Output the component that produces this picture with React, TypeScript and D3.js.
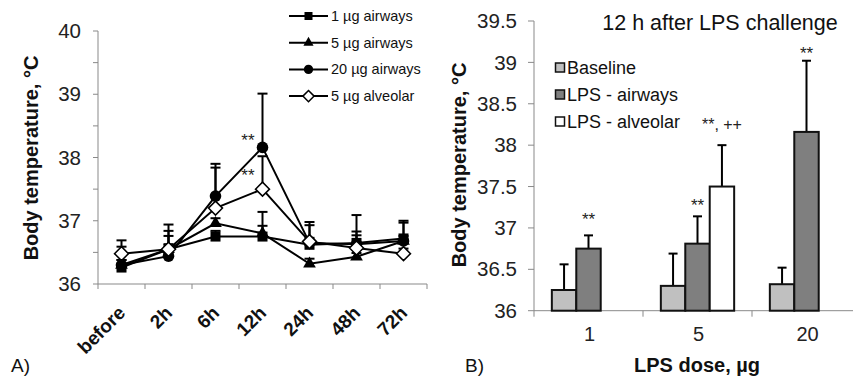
import React, { useRef, useEffect } from "react";
import * as d3 from "d3";

// panel A: body temperature over time
const times = ["before", "2h", "6h", "12h", "24h", "48h", "72h"];
const seriesNames = ["1 µg airways", "5 µg airways", "20 µg airways", "5 µg alveolar"];
const s1 = [36.26, 36.55, 36.75, 36.75, 36.62, 36.65, 36.72];
const s1Err = [0.33, 0.29, 0.09, 0.39, 0.31, 0.44, 0.28];
const s2 = [36.3, 36.55, 36.96, 36.8, 36.32, 36.43, 36.68];
const s2Err = [0.08, 0.39, 0.08, 0.12, 0.08, 0.06, 0.08];
const s3 = [36.3, 36.44, 37.39, 38.16, 36.65, 36.63, 36.68];
const s3Err = [0.08, 0.32, 0.51, 0.85, 0.08, 0.2, 0.29];
const s4 = [36.48, 36.55, 37.2, 37.5, 36.67, 36.57, 36.48];
const s4Err = [0.21, 0.08, 0.64, 0.52, 0.31, 0.2, 0.08];
const leftTicks = [36, 36.5, 37, 37.5, 38, 38.5, 39, 39.5, 40];
const leftStars = [
  { time: "12h", level: 38.18 },
  { time: "12h", level: 37.63 },
];

// panel B: 12 h after LPS challenge
const doses = ["1", "5", "20"];
const groups = ["Baseline", "LPS - airways", "LPS - alveolar"];
const baseline = [36.25, 36.3, 36.32];
const baselineErr = [0.31, 0.39, 0.2];
const airways = [36.75, 36.81, 38.16];
const airwaysErr = [0.16, 0.33, 0.86];
const alveolar = [null, 37.5, null];
const alveolarErr = [null, 0.5, null];
const airwaysStars = ["**", "**", "**"];
const airwaysStarLevel = [37.04, 37.2, 39.04];
const alveolarStars = [null, "**, ++", null];
const alveolarStarLevel = [null, 38.18, null];
const rightTicks = [36, 36.5, 37, 37.5, 38, 38.5, 39, 39.5];

const FONT = "'Liberation Sans', Arial, sans-serif";
const AXIS = "#898989";

const App = () => {
  const ref = useRef(null);

  useEffect(() => {
    const svg = d3.select(ref.current);
    svg.selectAll("*").remove();

    // ---------- panel A ----------
    const xA = d3.scaleBand().domain(times).range([98, 427]);
    const yA = d3.scaleLinear().domain([36, 40]).range([284, 31]);
    const a = svg.append("g");

    a.append("line").attr("x1", 98).attr("x2", 98).attr("y1", yA(40)).attr("y2", yA(36)).attr("stroke", AXIS);
    a.append("line").attr("x1", 98).attr("x2", 427).attr("y1", yA(36)).attr("y2", yA(36)).attr("stroke", AXIS);
    a.selectAll(".ytick").data(leftTicks).enter().append("line")
      .attr("x1", 93).attr("x2", 98).attr("y1", d => yA(d)).attr("y2", d => yA(d)).attr("stroke", AXIS);
    a.selectAll(".ylab").data(leftTicks.filter(d => d % 1 === 0)).enter().append("text")
      .attr("x", 81).attr("y", d => yA(d)).attr("dy", "0.35em").attr("text-anchor", "end")
      .attr("font-size", 20.5).attr("font-family", FONT).attr("fill", "#222").text(d => d);
    const xEdges = times.map(t => xA(t)).concat([427]);
    a.selectAll(".xtick").data(xEdges).enter().append("line")
      .attr("x1", d => d).attr("x2", d => d).attr("y1", yA(36)).attr("y2", yA(36) + 5).attr("stroke", AXIS);
    a.selectAll(".xlab").data(times).enter().append("text")
      .attr("transform", d => `translate(${xA(d) + xA.bandwidth() / 2 + 5},${314}) rotate(-45)`)
      .attr("text-anchor", "end").attr("font-size", 19).attr("font-weight", "bold")
      .attr("font-family", FONT).attr("fill", "#111").text(d => d);

    a.append("text").attr("transform", "translate(38,158) rotate(-90)").attr("text-anchor", "middle")
      .attr("font-size", 20).attr("font-weight", "bold").attr("font-family", FONT).attr("fill", "#111")
      .text("Body temperature, °C");

    const cx = (t) => xA(t) + xA.bandwidth() / 2;
    const series = [
      { vals: s1, err: s1Err, type: "square" },
      { vals: s2, err: s2Err, type: "triangle" },
      { vals: s3, err: s3Err, type: "circle" },
      { vals: s4, err: s4Err, type: "diamond" },
    ];
    const line = d3.line().x((d, i) => cx(times[i])).y(d => yA(d));
    series.forEach(s => {
      a.append("path").attr("d", line(s.vals)).attr("fill", "none").attr("stroke", "#000").attr("stroke-width", 2);
    });
    series.forEach(s => {
      s.vals.forEach((v, i) => {
        const x = cx(times[i]);
        const top = yA(v + s.err[i]);
        a.append("line").attr("x1", x).attr("x2", x).attr("y1", yA(v)).attr("y2", top).attr("stroke", "#000").attr("stroke-width", 2);
        a.append("line").attr("x1", x - 5).attr("x2", x + 5).attr("y1", top).attr("y2", top).attr("stroke", "#000").attr("stroke-width", 2);
      });
    });
    const drawMarker = (g, type, x, y, scale) => {
      if (type === "square") {
        g.append("rect").attr("x", x - 5 * scale).attr("y", y - 5 * scale).attr("width", 10 * scale).attr("height", 10 * scale).attr("fill", "#000");
      } else if (type === "triangle") {
        g.append("path").attr("transform", `translate(${x},${y})`)
          .attr("d", d3.symbol(d3.symbolTriangle, 70 * scale * scale)()).attr("fill", "#000");
      } else if (type === "circle") {
        g.append("circle").attr("cx", x).attr("cy", y).attr("r", 5.8 * scale).attr("fill", "#000");
      } else {
        const r = 7 * scale;
        g.append("path").attr("d", `M${x},${y - r}L${x + r},${y}L${x},${y + r}L${x - r},${y}Z`)
          .attr("fill", "#fff").attr("stroke", "#000").attr("stroke-width", 1.5);
      }
    };
    series.forEach(s => {
      s.vals.forEach((v, i) => drawMarker(a, s.type, cx(times[i]), yA(v), 1));
    });
    leftStars.forEach(st => {
      a.append("text").attr("x", cx(st.time) - 8).attr("y", yA(st.level)).attr("text-anchor", "end")
        .attr("font-size", 17).attr("font-family", FONT).attr("fill", "#222").text("**");
    });

    // legend A
    seriesNames.forEach((name, i) => {
      const y = 16 + i * 26.7;
      a.append("line").attr("x1", 289).attr("x2", 328).attr("y1", y).attr("y2", y).attr("stroke", "#000").attr("stroke-width", 2);
      drawMarker(a, series[i].type, 308.5, y, 0.8);
      a.append("text").attr("x", 331).attr("y", y).attr("dy", "0.35em").attr("font-size", 14.5)
        .attr("font-family", FONT).attr("fill", "#111").text(name);
    });
    svg.append("text").attr("x", 11).attr("y", 372).attr("font-size", 19).attr("font-family", FONT).attr("fill", "#111").text("A)");

    // ---------- panel B ----------
    const xB = d3.scaleBand().domain(doses).range([534, 861]);
    const xInner = d3.scaleBand().domain(groups).range([0, xB.bandwidth()]).paddingInner(0).paddingOuter(0.73);
    const yB = d3.scaleLinear().domain([36, 39.5]).range([310.7, 21]);
    const b = svg.append("g");

    b.append("line").attr("x1", 534).attr("x2", 534).attr("y1", yB(39.5)).attr("y2", yB(36)).attr("stroke", AXIS);
    b.append("line").attr("x1", 534).attr("x2", 861).attr("y1", yB(36)).attr("y2", yB(36)).attr("stroke", AXIS);
    b.selectAll(".ytick").data(rightTicks).enter().append("line")
      .attr("x1", 528).attr("x2", 534).attr("y1", d => yB(d)).attr("y2", d => yB(d)).attr("stroke", AXIS);
    b.selectAll(".ylab").data(rightTicks).enter().append("text")
      .attr("x", 517).attr("y", d => yB(d)).attr("dy", "0.35em").attr("text-anchor", "end")
      .attr("font-size", 20.5).attr("font-family", FONT).attr("fill", "#222").text(d => d);
    b.selectAll(".xtick").data(doses.map(d => xB(d)).concat([861])).enter().append("line")
      .attr("x1", d => d).attr("x2", d => d).attr("y1", yB(36)).attr("y2", yB(36) + 6).attr("stroke", AXIS);
    b.selectAll(".xlab").data(doses).enter().append("text")
      .attr("x", d => xB(d) + xB.bandwidth() / 2 + 1).attr("y", 341).attr("text-anchor", "middle")
      .attr("font-size", 20).attr("font-family", FONT).attr("fill", "#222").text(d => d);
    b.append("text").attr("x", 697).attr("y", 372).attr("text-anchor", "middle").attr("font-size", 20)
      .attr("font-weight", "bold").attr("font-family", FONT).attr("fill", "#111").text("LPS dose, µg");
    b.append("text").attr("transform", "translate(466,165) rotate(-90)").attr("text-anchor", "middle")
      .attr("font-size", 20).attr("font-weight", "bold").attr("font-family", FONT).attr("fill", "#111")
      .text("Body temperature, °C");
    b.append("text").attr("x", 720).attr("y", 29.5).attr("text-anchor", "middle").attr("font-size", 21.5)
      .attr("font-family", FONT).attr("fill", "#111").text("12 h after LPS challenge");

    const fills = ["#c0c0c0", "#7f7f7f", "#ffffff"];
    const groupVals = [baseline, airways, alveolar];
    const groupErrs = [baselineErr, airwaysErr, alveolarErr];
    groups.forEach((g, gi) => {
      doses.forEach((d, di) => {
        const v = groupVals[gi][di];
        if (v == null) return;
        const x = xB(d) + xInner(g);
        const w = xInner.bandwidth();
        const top = yB(v + groupErrs[gi][di]);
        b.append("line").attr("x1", x + w / 2).attr("x2", x + w / 2).attr("y1", yB(v)).attr("y2", top).attr("stroke", "#000").attr("stroke-width", 2);
        b.append("line").attr("x1", x + w / 2 - 4.5).attr("x2", x + w / 2 + 4.5).attr("y1", top).attr("y2", top).attr("stroke", "#000").attr("stroke-width", 2);
        b.append("rect").attr("x", x).attr("y", yB(v)).attr("width", w).attr("height", yB(36) - yB(v))
          .attr("fill", fills[gi]).attr("stroke", "#111").attr("stroke-width", 2);
      });
    });
    doses.forEach((d, di) => {
      const w = xInner.bandwidth();
      if (airwaysStars[di]) {
        b.append("text").attr("x", xB(d) + xInner(groups[1]) + w / 2).attr("y", yB(airwaysStarLevel[di]))
          .attr("text-anchor", "middle").attr("font-size", 17).attr("font-family", FONT).attr("fill", "#222").text(airwaysStars[di]);
      }
      if (alveolarStars[di]) {
        b.append("text").attr("x", xB(d) + xInner(groups[2]) + w / 2).attr("y", yB(alveolarStarLevel[di]))
          .attr("text-anchor", "middle").attr("font-size", 16).attr("font-family", FONT).attr("fill", "#222").text(alveolarStars[di]);
      }
    });

    // legend B
    groups.forEach((g, i) => {
      const y = 67.5 + i * 27;
      b.append("rect").attr("x", 555.5).attr("y", y - 4.5).attr("width", 9).attr("height", 9)
        .attr("fill", fills[i]).attr("stroke", "#111").attr("stroke-width", 1.5);
      b.append("text").attr("x", 567).attr("y", y).attr("dy", "0.35em").attr("font-size", 18)
        .attr("font-family", FONT).attr("fill", "#111").text(g);
    });
    svg.append("text").attr("x", 465).attr("y", 372).attr("font-size", 19).attr("font-family", FONT).attr("fill", "#111").text("B)");
  }, []);

  return (
    <svg ref={ref} width={853} height={377}
      style={{ position: "absolute", left: 0, top: 0, background: "#fff" }} />
  );
};

export default App;
